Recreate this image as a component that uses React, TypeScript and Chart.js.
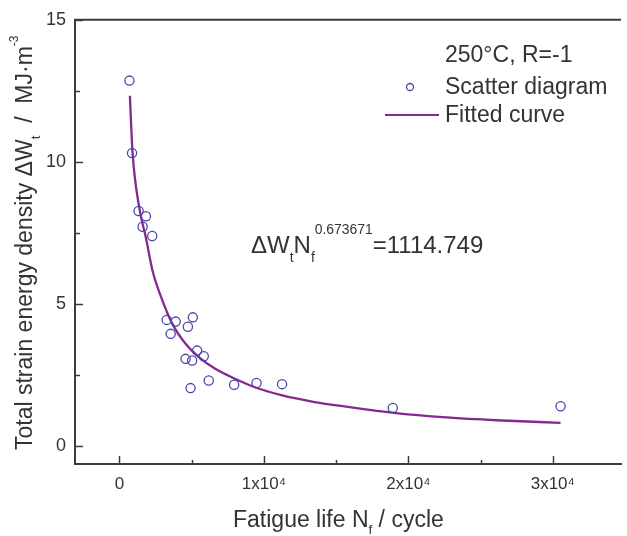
import React, { useEffect, useRef } from "react";
import { Chart, registerables } from "chart.js";

Chart.register(...registerables);

// ---- data ----
const fatigueLife = [690, 870, 1325, 1830, 1600, 2265, 3270, 3890, 3545, 5080, 4735, 4575, 5030, 5375, 5835, 4920, 6180, 7940, 9490, 11255, 18920, 30540];
const energyDensity = [12.86, 10.31, 8.27, 8.09, 7.72, 7.39, 4.44, 4.38, 3.95, 4.53, 4.2, 3.07, 3.01, 3.36, 3.16, 2.04, 2.31, 2.16, 2.22, 2.18, 1.34, 1.4];

const curveLife = [720, 900, 1373, 1830, 2288, 2975, 3660, 4575, 5490, 6630, 8000, 9380, 11210, 13500, 15790, 18990, 22650, 26080, 30540];
const curveEnergy = [12.33, 10.37, 8.38, 7.33, 6.17, 5.12, 4.3, 3.6, 3.13, 2.72, 2.37, 2.07, 1.79, 1.55, 1.38, 1.17, 1.01, 0.91, 0.82];

const xTickValues = [0, 10000, 20000, 30000];
const xTickLabels = ["0", "1x10\u2074", "2x10\u2074", "3x10\u2074"];
const xMinorTicks = [5000, 15000, 25000];
const yTickValues = [0, 5, 10, 15];
const yTickLabels = ["0", "5", "10", "15"];
const yMinorTicks = [2.5, 7.5, 12.5];

const legendTitle = "250\u00B0C, R=-1";
const scatterLabel = "Scatter diagram";
const curveLabel = "Fitted curve";

const FONT = "'Liberation Sans', Arial, sans-serif";
const TEXT = "#333333";
const AXIS = "#3c3c3c";
const MARKER = "#4a46a8";
const CURVE = "#84298f";

type Seg = { t: string; k?: "sub" | "sup"; dy?: number; s?: number };

function drawRich(ctx: CanvasRenderingContext2D, segs: Seg[], x: number, y: number, F: number) {
  let cx = x;
  for (const seg of segs) {
    const size = seg.k ? F * (seg.s ?? 0.58) : F;
    const dy = seg.k ? F * (seg.dy ?? (seg.k === "sub" ? 0.38 : -0.6)) : 0;
    ctx.font = `${size}px ${FONT}`;
    ctx.fillText(seg.t, cx, y + dy);
    cx += ctx.measureText(seg.t).width;
  }
}

const decorPlugin = {
  id: "decor",
  afterDraw(chart: any) {
    const { ctx, chartArea } = chart;
    const xs = chart.scales.x;
    const ys = chart.scales.y;
    ctx.save();
    // top frame line
    ctx.strokeStyle = AXIS;
    ctx.lineWidth = 2;
    ctx.beginPath();
    ctx.moveTo(chartArea.left - 1, chartArea.top);
    ctx.lineTo(chartArea.right, chartArea.top);
    ctx.stroke();
    // inward tick marks
    ctx.lineWidth = 1.5;
    const tick = (isX: boolean, v: number, len: number) => {
      ctx.beginPath();
      if (isX) {
        const p = Math.round(xs.getPixelForValue(v)) + 0.5;
        ctx.moveTo(p, chartArea.bottom);
        ctx.lineTo(p, chartArea.bottom - len);
      } else {
        const p = Math.round(ys.getPixelForValue(v)) + 0.5;
        ctx.moveTo(chartArea.left, p);
        ctx.lineTo(chartArea.left + len, p);
      }
      ctx.stroke();
    };
    xTickValues.forEach((v) => tick(true, v, 8));
    xMinorTicks.forEach((v) => tick(true, v, 4));
    yTickValues.forEach((v) => tick(false, v, 8));
    yMinorTicks.forEach((v) => tick(false, v, 5));

    ctx.fillStyle = TEXT;
    ctx.textAlign = "left";
    ctx.textBaseline = "alphabetic";

    // x title
    drawRich(ctx, [{ t: "Fatigue life N" }, { t: "f", k: "sub", dy: 0.3 }, { t: " / cycle" }], 233, 527, 23);

    // y title (rotated)
    ctx.save();
    ctx.translate(32, 450);
    ctx.rotate(-Math.PI / 2);
    drawRich(
      ctx,
      [
        { t: "Total strain energy density \u0394W" },
        { t: "t", k: "sub", dy: 0.35 },
        { t: "  /  MJ\u00B7m" },
        { t: "-3", k: "sup", dy: -0.6, s: 0.52 },
      ],
      0,
      0,
      23
    );
    ctx.restore();

    // fitted equation
    drawRich(
      ctx,
      [
        { t: "\u0394W" },
        { t: "t", k: "sub", dy: 0.39 },
        { t: "N" },
        { t: "f", k: "sub", dy: 0.39 },
        { t: "0.673671", k: "sup", dy: -0.8, s: 0.58 },
        { t: "=1114.749" },
      ],
      251,
      253,
      24
    );

    // legend
    const ds = chart.data.datasets;
    ctx.font = `23px ${FONT}`;
    ctx.fillStyle = TEXT;
    ctx.fillText(legendTitle, 445, 62);
    ctx.fillText(ds[0].label, 445, 94);
    ctx.fillText(ds[1].label, 445, 122);
    ctx.strokeStyle = MARKER;
    ctx.lineWidth = 1.3;
    ctx.beginPath();
    ctx.arc(410, 87, 3.5, 0, Math.PI * 2);
    ctx.stroke();
    ctx.strokeStyle = CURVE;
    ctx.lineWidth = 2.2;
    ctx.beginPath();
    ctx.moveTo(385, 115);
    ctx.lineTo(439, 115);
    ctx.stroke();
    ctx.restore();
  },
};

export default function App() {
  const ref = useRef<HTMLCanvasElement>(null);
  useEffect(() => {
    document.body.style.margin = "0";
    const canvas = ref.current!;
    const chart = new Chart(canvas, {
      type: "scatter",
      data: {
        datasets: [
          {
            label: scatterLabel,
            data: fatigueLife.map((x, i) => ({ x, y: energyDensity[i] })),
            pointStyle: "circle",
            pointRadius: 4.6,
            borderWidth: 1.3,
            borderColor: MARKER,
            backgroundColor: "rgba(0,0,0,0)",
            showLine: false,
          },
          {
            label: curveLabel,
            data: curveLife.map((x, i) => ({ x, y: curveEnergy[i] })),
            showLine: true,
            pointRadius: 0,
            borderColor: CURVE,
            borderWidth: 2.3,
            backgroundColor: CURVE,
            cubicInterpolationMode: "monotone",
            fill: false,
          },
        ],
      } as any,
      options: {
        responsive: false,
        animation: false,
        devicePixelRatio: 1,
        layout: { padding: { top: 18, right: 0, left: 0, bottom: 0 } },
        plugins: { legend: { display: false }, tooltip: { enabled: false } },
        scales: {
          x: {
            type: "linear",
            min: -3080,
            max: 34730,
            grid: { display: false, drawTicks: false },
            border: { display: true, color: AXIS, width: 2 },
            afterBuildTicks: (scale: any) => {
              scale.ticks = xTickValues.map((v) => ({ value: v }));
            },
            afterFit: (scale: any) => {
              scale.height = 72;
            },
            ticks: {
              color: TEXT,
              font: { family: FONT, size: 17 },
              padding: 10,
              maxRotation: 0,
              autoSkip: false,
              callback: (v: any) => {
                const i = xTickValues.indexOf(Number(v));
                return i >= 0 ? xTickLabels[i] : "";
              },
            },
          },
          y: {
            type: "linear",
            min: -0.63,
            max: 15,
            grid: { display: false, drawTicks: false },
            border: { display: true, color: AXIS, width: 2 },
            afterBuildTicks: (scale: any) => {
              scale.ticks = yTickValues.map((v) => ({ value: v }));
            },
            afterFit: (scale: any) => {
              scale.width = 75;
            },
            ticks: {
              color: TEXT,
              font: { family: FONT, size: 18 },
              padding: 9,
              autoSkip: false,
              callback: (v: any) => {
                const i = yTickValues.indexOf(Number(v));
                return i >= 0 ? yTickLabels[i] : "";
              },
            },
          },
        },
      } as any,
      plugins: [decorPlugin],
    });
    return () => chart.destroy();
  }, []);
  return (
    <canvas
      ref={ref}
      width={627}
      height={536}
      style={{ display: "block", width: 627, height: 536 }}
    />
  );
}
